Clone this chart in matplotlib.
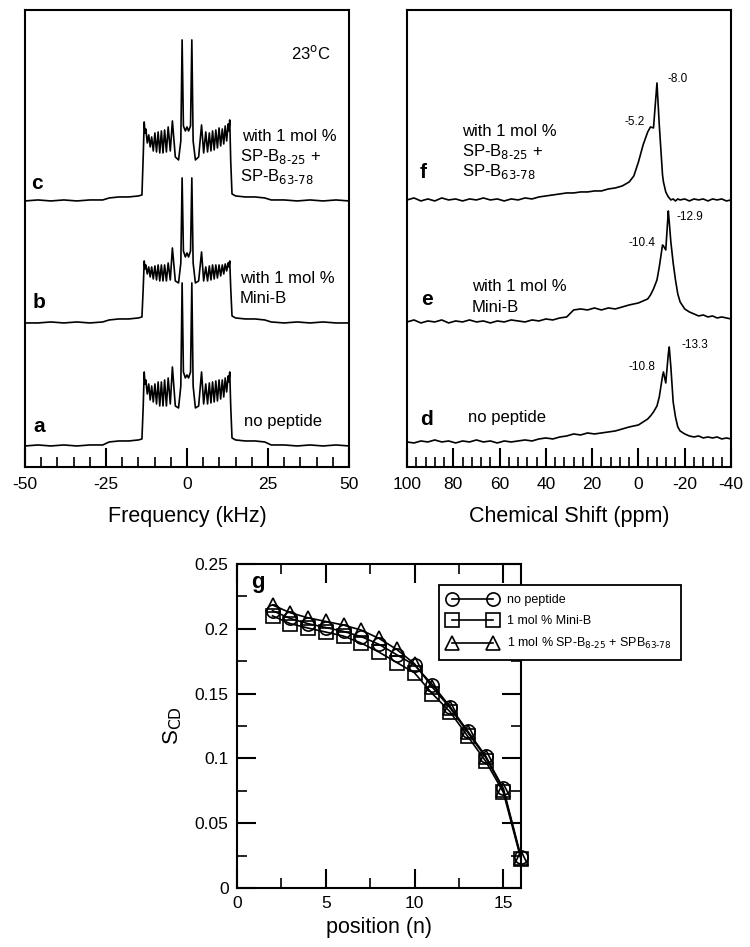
import numpy as np
import matplotlib.pyplot as plt

plt.rcParams['font.family'] = ['Liberation Sans', 'DejaVu Sans']
plt.rcParams['axes.unicode_minus'] = False

# ---- 2H spectra (left), frequency in kHz, heights in arbitrary units
freq = [-50, -46, -42, -38, -34, -30, -26, -24, -21, -18, -15, -13.9,
        -13.5, -13.2, -12.95, -12.7, -12.25, -11.8, -11.35, -10.9, -10.4, -9.9, -9.4, -8.9, -8.4,
        -7.9, -7.4, -6.9, -6.35, -5.8, -5.15, -4.5, -3.6, -2.6, -1.9, -1.5, -1.1, -0.5,
        0,
        0.5, 1.1, 1.5, 1.9, 2.6, 3.6, 4.5, 5.15, 5.8, 6.35, 6.9, 7.4, 7.9, 8.4, 8.9, 9.4,
        9.9, 10.4, 10.9, 11.35, 11.8, 12.25, 12.7, 12.95, 13.2, 13.5,
        13.9, 15, 18, 21, 24, 26, 30, 34, 38, 42, 46, 50]
spec_c = [0, 1, 0, 1, 0, 1, 1, 3, 4, 4, 5, 6,
          45, 79, 68, 72, 58, 66, 54, 64, 50, 68, 49, 69, 48,
          70, 48, 71, 49, 74, 50, 80, 44, 41, 60, 161, 75, 70,
          74,
          70, 75, 161, 60, 41, 44, 76, 48, 69, 49, 68, 50, 70, 51, 71, 53,
          73, 55, 72, 57, 75, 60, 77, 70, 81, 40,
          7, 5, 4, 4, 3, 1, 1, 0, 1, 0, 1, 0]
spec_b = [0, 0, 1, 0, 1, 0, 1, 3, 4, 4, 5, 6,
          35, 62, 54, 58, 49, 56, 46, 56, 44, 57, 43, 58, 42,
          58, 42, 58, 42, 60, 43, 75, 42, 40, 60, 145, 72, 66,
          70,
          66, 72, 145, 60, 40, 42, 71, 42, 56, 42, 57, 43, 58, 44, 58, 45,
          58, 47, 58, 49, 59, 52, 60, 56, 62, 35,
          7, 5, 4, 4, 3, 1, 0, 1, 0, 1, 0, 0]
spec_a = [0, 1, 0, 1, 0, 1, 1, 4, 5, 5, 6, 7,
          40, 74, 62, 66, 52, 62, 46, 60, 44, 62, 42, 64, 40,
          64, 40, 66, 40, 68, 42, 79, 40, 38, 60, 163, 74, 68,
          71,
          68, 74, 163, 60, 38, 40, 74, 42, 62, 42, 63, 43, 64, 44, 65, 45,
          66, 47, 66, 49, 68, 54, 70, 64, 74, 40,
          8, 6, 5, 5, 4, 1, 1, 0, 1, 0, 1, 0]

# ---- 31P spectra (right), chemical shift in ppm
ppm = [100, 97, 94, 91, 88, 85, 82, 79, 76, 73, 70, 67, 64, 61, 58, 55, 52, 49, 46, 43,
       40, 37, 34, 31, 28, 25, 22, 19, 16, 13, 10, 7, 4, 2, 0, -2, -4, -5.2, -6.5, -8,
       -9, -10.4, -10.8, -11.8, -12.9, -13.3, -14, -15, -16, -17, -18, -20, -22, -24,
       -26, -28, -30, -32, -34, -36, -38, -40]
spec_f = [0, 2, -1, 1, -1, 2, 0, 1, -1, 1, 0, 2, 0, 1, -1, 1, 0, 2, 1, 3,
          4, 5, 6, 7, 7, 8, 8, 9, 9, 11, 12, 14, 18, 24, 38, 55, 68, 73, 72, 117,
          75, 25, 18, 8, 3, 2, 0, 1, -1, 1, 0, 1, -1, 1,
          0, 1, -1, 1, 0, 1, -1, 0]
spec_e = [0, 2, -1, 1, 0, 2, -1, 1, 0, 2, 0, 1, -1, 1, 0, 2, 1, 0, 2, 1,
          3, 2, 4, 5, 12, 13, 12, 14, 12, 14, 13, 15, 17, 18, 19, 21, 23, 27, 33, 42,
          55, 77, 76, 72, 111, 100, 80, 59, 42, 28, 20, 13, 10, 8,
          6, 7, 5, 6, 4, 5, 4, 3]
spec_d = [0, -1, 1, 0, 2, 0, 1, -1, 1, 0, 2, 0, 1, -1, 1, 0, 1, 2, 1, 3,
          4, 3, 5, 6, 8, 7, 9, 8, 9, 10, 11, 13, 15, 16, 17, 20, 23, 26, 30, 36,
          45, 66, 70, 59, 88, 95, 75, 40, 25, 15, 11, 8, 6, 5,
          6, 4, 5, 4, 5, 3, 4, 3]

# ---- order parameter profiles
position = [2, 3, 4, 5, 6, 7, 8, 9, 10, 11, 12, 13, 14, 15, 16]
scd_none = [0.214, 0.208, 0.204, 0.201, 0.198, 0.194, 0.188, 0.180, 0.172, 0.157, 0.140,
            0.121, 0.102, 0.077, 0.024]
scd_minib = [0.210, 0.204, 0.2006, 0.1975, 0.1944, 0.189, 0.182, 0.174, 0.166, 0.150, 0.136,
             0.117, 0.098, 0.074, 0.022]
scd_spb = [0.2184, 0.2124, 0.2085, 0.2057, 0.2029, 0.199, 0.1926, 0.1841, 0.173, 0.155, 0.139,
           0.120, 0.101, 0.076, 0.023]

fig = plt.figure(figsize=(7.5, 9.47), dpi=100)
ax1 = fig.add_axes([0.0333, 0.5069, 0.432, 0.4826])
ax2 = fig.add_axes([0.5427, 0.5069, 0.432, 0.4826])
ax3 = fig.add_axes([0.316, 0.0623, 0.3787, 0.3421])

lw = 1.2
fs_lab = 12

# left panel
ax1.plot(freq, np.array(spec_a) + 21, color='black', lw=lw)
ax1.plot(freq, np.array(spec_b) + 144, color='black', lw=lw)
ax1.plot(freq, np.array(spec_c) + 266, color='black', lw=lw)
ax1.set_xlim(-50, 50)
ax1.set_ylim(0, 457)
ax1.set_yticks([])
ax1.set_xticks([-50, -25, 0, 25, 50])
ax1.set_xticks(np.arange(-45, 50, 5), minor=True)
ax1.set_xlabel('Frequency (kHz)', fontsize=15.5, labelpad=10)
ax1.text(38.3, 414, r'23$^{\rm o}$C', fontsize=12, ha='center', va='center')
ax1.text(-46.3, 283, 'c', fontsize=15, fontweight='bold', ha='center', va='center')
ax1.text(-45.7, 164, 'b', fontsize=15, fontweight='bold', ha='center', va='center')
ax1.text(-45.7, 40, 'a', fontsize=15, fontweight='bold', ha='center', va='center')
ax1.text(17.0, 330, 'with 1 mol %', fontsize=fs_lab, va='center')
ax1.text(16.5, 310, r'SP-B$_{8\text{-}25}$ +', fontsize=fs_lab, va='center')
ax1.text(16.5, 290, r'SP-B$_{63\text{-}78}$', fontsize=fs_lab, va='center')
ax1.text(16.4, 188, 'with 1 mol %', fontsize=fs_lab, va='center')
ax1.text(16.4, 168, 'Mini-B', fontsize=fs_lab, va='center')
ax1.text(17.6, 45, 'no peptide', fontsize=fs_lab, va='center')

# right panel
ax2.plot(ppm, np.array(spec_d) + 25, color='black', lw=lw)
ax2.plot(ppm, np.array(spec_e) + 145, color='black', lw=lw)
ax2.plot(ppm, np.array(spec_f) + 267, color='black', lw=lw)
ax2.set_xlim(100, -40)
ax2.set_ylim(0, 457)
ax2.set_yticks([])
ax2.set_xticks(np.arange(100, -41, -20))
ax2.set_xticks(np.arange(96, -40, -4), minor=True)
ax2.set_xlabel('Chemical Shift (ppm)', fontsize=15.5, labelpad=10)
ax2.text(93.1, 294, 'f', fontsize=15, fontweight='bold', ha='center', va='center')
ax2.text(91.4, 167, 'e', fontsize=15, fontweight='bold', ha='center', va='center')
ax2.text(91.4, 47, 'd', fontsize=15, fontweight='bold', ha='center', va='center')
ax2.text(76.2, 335, 'with 1 mol %', fontsize=fs_lab, va='center')
ax2.text(76.2, 315, r'SP-B$_{8\text{-}25}$ +', fontsize=fs_lab, va='center')
ax2.text(76.2, 295, r'SP-B$_{63\text{-}78}$', fontsize=fs_lab, va='center')
ax2.text(71.9, 180, 'with 1 mol %', fontsize=fs_lab, va='center')
ax2.text(71.9, 159, 'Mini-B', fontsize=fs_lab, va='center')
ax2.text(73.6, 49, 'no peptide', fontsize=fs_lab, va='center')
fs_pk = 8.5
ax2.text(-12.4, 388, '-8.0', fontsize=fs_pk, ha='left', va='center')
ax2.text(1.5, 345, '-5.2', fontsize=fs_pk, ha='center', va='center')
ax2.text(-16.5, 250, '-12.9', fontsize=fs_pk, ha='left', va='center')
ax2.text(-1.6, 224, '-10.4', fontsize=fs_pk, ha='center', va='center')
ax2.text(-18.5, 122, '-13.3', fontsize=fs_pk, ha='left', va='center')
ax2.text(-1.6, 100, '-10.8', fontsize=fs_pk, ha='center', va='center')

for ax in (ax1, ax2):
    ax.tick_params(axis='x', which='major', direction='in', length=14, width=1.5,
                   labelsize=12.5, pad=7, top=False)
    ax.tick_params(axis='x', which='minor', direction='in', length=7, width=1.2, top=False)
    for s in ax.spines.values():
        s.set_linewidth(1.5)

# bottom panel
mk = dict(color='black', lw=lw, markersize=9.5, markerfacecolor='none',
          markeredgecolor='black', markeredgewidth=1.2, clip_on=False)
ax3.plot(position, scd_none, marker='o', label='no peptide', **mk)
ax3.plot(position, scd_minib, marker='s', label='1 mol % Mini-B', **mk)
ax3.plot(position, scd_spb, marker='^', label=r'1 mol % SP-B$_{8\text{-}25}$ + SPB$_{63\text{-}78}$', **mk)
ax3.set_xlim(0, 16)
ax3.set_ylim(0, 0.25)
ax3.set_xticks([0, 5, 10, 15])
ax3.set_xticks(np.arange(2.5, 16, 2.5), minor=True)
ax3.set_yticks([0, 0.05, 0.1, 0.15, 0.2, 0.25])
ax3.set_yticklabels(['0', '0.05', '0.1', '0.15', '0.2', '0.25'])
ax3.set_yticks(np.arange(0.025, 0.25, 0.05), minor=True)
ax3.tick_params(which='major', direction='in', length=14, width=1.5, labelsize=12.5,
                top=True, right=True, pad=6)
ax3.tick_params(which='minor', direction='in', length=7, width=1.2, top=True, right=True)
for s in ax3.spines.values():
    s.set_linewidth(1.5)
ax3.set_xlabel('position (n)', fontsize=15.5, labelpad=4)
ax3.set_ylabel(r'S$_{\rm CD}$', fontsize=16, labelpad=8)
ax3.text(1.18, 0.236, 'g', fontsize=16, fontweight='bold', ha='center', va='center')
leg = ax3.legend(loc='upper left', bbox_to_anchor=(0.711, 0.935), fontsize=9,
                 numpoints=2, handlelength=3.9, fancybox=False, edgecolor='black',
                 framealpha=1, borderaxespad=0, borderpad=0.75, labelspacing=0.7)
leg.get_frame().set_linewidth(1.3)

fig.savefig('out.png', dpi=100)
